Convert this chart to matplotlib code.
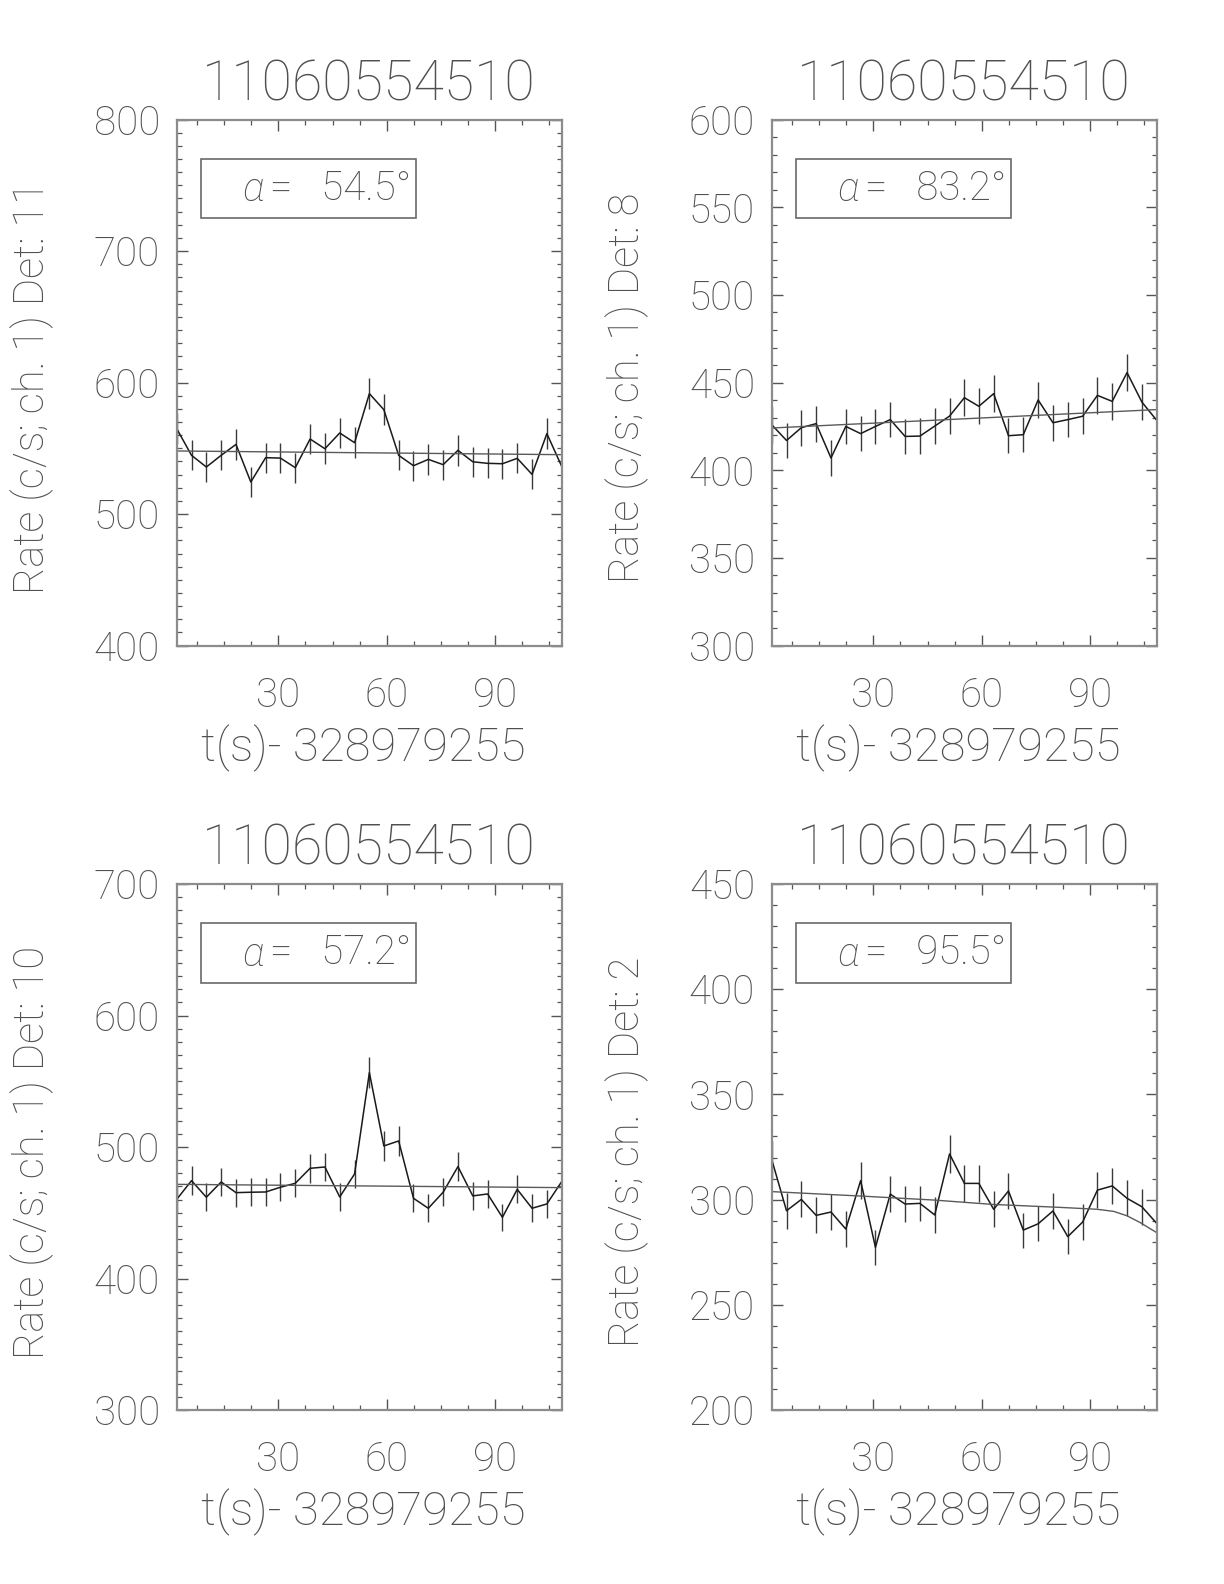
import matplotlib
matplotlib.use("Agg")
import matplotlib.pyplot as plt
from matplotlib.ticker import MultipleLocator, FixedLocator
from matplotlib.patches import Rectangle

plt.rcParams['font.family'] = ['Roboto', 'DejaVu Sans']
plt.rcParams['font.weight'] = 'light'
plt.rcParams['axes.titleweight'] = 'light'
plt.rcParams['axes.labelweight'] = 'light'

# ---- data ----
title_id = "11060554510"
xlabel_text = "t(s)- 328979255"
times = [1.9, 6.0, 10.1, 14.2, 18.3, 22.4, 26.5, 30.6, 34.7, 38.8, 42.9, 47.0, 51.1,
         55.2, 59.2, 63.3, 67.4, 71.5, 75.6, 79.7, 83.8, 87.9, 92.0, 96.1, 100.2,
         104.3, 108.4]

det_labels = ["11", "8", "10", "2"]
alphas = ["54.5", "83.2", "57.2", "95.5"]
yranges = [(400, 800), (300, 600), (300, 700), (200, 450)]
ymajor = [100, 50, 100, 50]

rate_det11 = [565.0, 544.7, 535.8, 544.7, 553.0, 524.4, 542.9, 542.6, 535.3, 557.1,
              549.7, 561.7, 554.3, 591.6, 579.4, 544.7, 536.8, 541.6, 537.6, 548.5,
              539.8, 538.6, 538.3, 542.4, 530.2, 561.2, 536.3]
err_det11 = [11.7, 11.5, 11.4, 11.5, 11.6, 11.3, 11.5, 11.5, 11.4, 11.7,
             11.6, 11.7, 11.6, 12.0, 11.9, 11.5, 11.4, 11.5, 11.5, 11.6,
             11.5, 11.5, 11.5, 11.5, 11.4, 11.7, 11.4]
fit_t_det11 = [1.9, 108.4]
fit_det11 = [548.0, 545.2]

rate_det8 = [426.0, 417.0, 424.3, 426.6, 407.0, 425.0, 420.9, 425.0, 428.9, 419.3,
             419.5, 425.2, 430.9, 441.4, 436.5, 443.7, 419.7, 420.3, 440.1, 427.1,
             428.9, 430.8, 442.7, 439.3, 455.7, 438.9, 428.5]
err_det8 = [10.2, 10.1, 10.2, 10.2, 10.0, 10.2, 10.1, 10.2, 10.2, 10.1,
            10.1, 10.2, 10.3, 10.4, 10.3, 10.4, 10.1, 10.1, 10.4, 10.2,
            10.2, 10.3, 10.4, 10.4, 10.5, 10.4, 10.2]
fit_t_det8 = [1.9, 108.4]
fit_det8 = [424.1, 434.6]

rate_det10 = [460.2, 474.4, 461.8, 473.4, 465.3, 465.6, 465.8, 469.4, 472.4, 483.8,
              484.8, 462.0, 479.5, 556.6, 500.8, 504.6, 461.0, 453.4, 465.6, 485.1,
              462.8, 464.3, 446.5, 467.8, 453.4, 456.7, 473.7]
err_det10 = [10.6, 10.8, 10.6, 10.8, 10.7, 10.7, 10.7, 10.7, 10.7, 10.9,
             10.9, 10.6, 10.8, 11.7, 11.1, 11.1, 10.6, 10.5, 10.7, 10.9,
             10.6, 10.6, 10.4, 10.7, 10.5, 10.6, 10.8]
fit_t_det10 = [1.9, 108.4]
fit_det10 = [471.6, 469.1]

rate_det2 = [319.1, 294.7, 300.1, 292.5, 294.1, 286.0, 309.0, 277.3, 302.6, 297.9,
             298.2, 292.7, 321.7, 307.7, 307.7, 295.4, 304.1, 285.5, 288.5, 294.6,
             282.4, 289.3, 304.5, 306.5, 300.6, 296.6, 288.7]
err_det2 = [8.8, 8.5, 8.6, 8.5, 8.5, 8.4, 8.7, 8.2, 8.6, 8.5,
            8.5, 8.5, 8.9, 8.7, 8.7, 8.5, 8.6, 8.3, 8.4, 8.5,
            8.3, 8.4, 8.6, 8.7, 8.6, 8.5, 8.4]
fit_t_det2 = [1.9, 26.4, 46.6, 63.2, 81.7, 91.9, 96.5, 100.2, 103.9, 108.4]
fit_det2 = [303.8, 301.7, 299.8, 297.7, 296.3, 295.4, 294.4, 292.3, 289.0, 284.3]

rates = [rate_det11, rate_det8, rate_det10, rate_det2]
errs = [err_det11, err_det8, err_det10, err_det2]
fit_ts = [fit_t_det11, fit_t_det8, fit_t_det10, fit_t_det2]
fits = [fit_det11, fit_det8, fit_det10, fit_det2]

# ---- layout ----
W, H = 1224, 1584
fig = plt.figure(figsize=(W / 100, H / 100), dpi=100)
fig.patch.set_facecolor('white')

ax_w = 385 / W
ax_h = 526 / H
lefts = [176.7 / W, 771.7 / W]
tops = [119.6, 884.0]

text_color = '#505050'
spine_color = '#8c8c8c'

for k in range(4):
    row, col = divmod(k, 2)
    bottom = 1 - (tops[row] + 526) / H
    ax = fig.add_axes([lefts[col], bottom, ax_w, ax_h])

    ax.errorbar(times, rates[k], yerr=errs[k], fmt='none', ecolor='#3a3a3a',
                elinewidth=1.0, capsize=0)
    ax.plot(times, rates[k], color='#1a1a1a', lw=1.1)
    ax.plot(fit_ts[k], fits[k], color='#5a5a5a', lw=1.0)

    ax.set_xlim(times[0], times[-1])
    ax.set_ylim(*yranges[k])
    ax.xaxis.set_major_locator(FixedLocator([30, 60, 90]))
    ax.xaxis.set_minor_locator(MultipleLocator(7.5))
    ax.yaxis.set_major_locator(MultipleLocator(ymajor[k]))
    ax.yaxis.set_minor_locator(MultipleLocator(10))
    ax.tick_params(which='both', direction='in', top=True, right=True,
                   color='#555555', labelcolor=text_color)
    ax.tick_params(which='major', length=8, width=1.0, labelsize=29)
    ax.tick_params(which='minor', length=3.6, width=0.9)
    ax.tick_params(axis='y', which='major', pad=12)
    ax.tick_params(axis='x', which='major', pad=22)
    for s in ax.spines.values():
        s.set_color(spine_color)
        s.set_linewidth(1.6)

    ax.set_title(title_id, fontsize=40, color=text_color, pad=14)
    ax.set_xlabel(xlabel_text, fontsize=34, color=text_color)
    ax.xaxis.set_label_coords(0.485, -0.15)
    ax.set_ylabel("Rate (c/s; ch. 1) Det: " + det_labels[k], fontsize=30,
                  color=text_color)
    ax.yaxis.set_label_coords(-0.318, 0.49)

    ax.add_patch(Rectangle((0.063, 0.8125), 0.559, 0.1135, transform=ax.transAxes,
                           fill=False, edgecolor='#6a6a6a', lw=1.2))
    ax.text(0.228, 0.866, "α", transform=ax.transAxes, ha='right', va='center',
            fontsize=29, color=text_color, style='italic', fontweight='light')
    ax.text(0.243, 0.869, "=   " + alphas[k] + "°", transform=ax.transAxes,
            ha='left', va='center', fontsize=29, color=text_color)

fig.savefig("out.png", dpi=100, facecolor='white')
